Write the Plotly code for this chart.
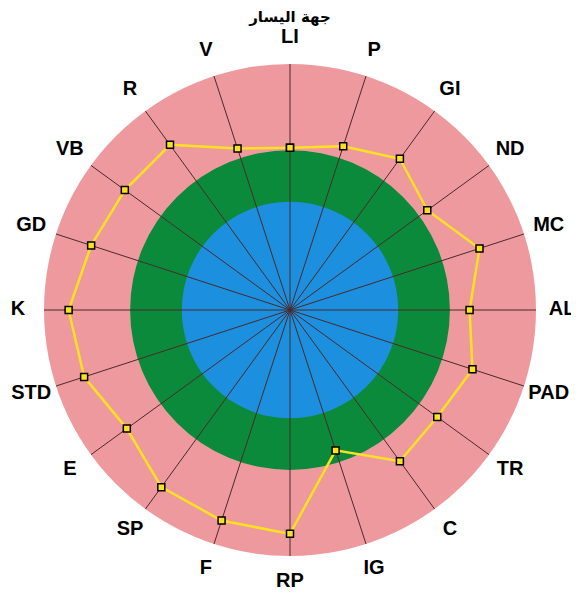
import plotly.graph_objects as go

# categories clockwise from the top
categorias = ["LI", "P", "GI", "ND", "MC", "AL", "PAD", "TR", "C", "IG",
              "RP", "F", "SP", "E", "STD", "K", "GD", "VB", "R", "V"]
valores = [66, 70, 76, 69, 81, 73, 78, 74, 76, 60,
           91, 90, 89, 82, 88, 90, 85, 83, 83, 69]
zonas_r = [100, 65, 44]     # pink disc, green ring, blue core
zonas_color = ["#EE999E", "#0B8A3B", "#1C8FDF"]
r_max = 100
r_etiqueta = 110.6          # label ring, just outside the disc
r_eje = 112                 # radial range so the labels fit inside the subplot

YELLOW = "#FFE21F"
SPOKE = "#4A2A2C"

paso = 360 / len(categorias)
angulos = [i * paso for i in range(len(categorias))]

fig = go.Figure()

for r, c in zip(zonas_r, zonas_color):
    fig.add_trace(go.Barpolar(r=[r], theta=[180], width=[360],
                              marker=dict(color=c, line=dict(width=0)),
                              hoverinfo="skip", showlegend=False))

# spokes
sr, st = [], []
for a in angulos:
    sr += [0, r_max, None]
    st += [a, a, None]
fig.add_trace(go.Scatterpolar(r=sr, theta=st, mode="lines",
                              line=dict(color=SPOKE, width=1),
                              hoverinfo="skip", showlegend=False))

fig.add_trace(go.Scatterpolar(
    r=valores + valores[:1], theta=angulos + angulos[:1],
    mode="lines+markers",
    line=dict(color=YELLOW, width=2.5),
    marker=dict(symbol="square", size=7, color=YELLOW,
                line=dict(color="black", width=1.5)),
    showlegend=False,
))

# category labels centred on a ring outside the disc
fig.add_trace(go.Scatterpolar(
    r=[r_etiqueta] * len(categorias), theta=angulos,
    mode="text", text=categorias, textposition="middle center",
    textfont=dict(size=20, family="Arial", weight="bold", color="black"),
    cliponaxis=False, hoverinfo="skip", showlegend=False,
))

fig.update_layout(
    width=579, height=596,
    margin=dict(l=0, r=0, t=0, b=0),
    paper_bgcolor="white",
    font=dict(family="Arial", color="black"),
    title=dict(text="<b>جهة اليسار</b>", x=0.487, xanchor="center",
               y=0.986, yanchor="middle",
               font=dict(size=15, family="DejaVu Sans", color="black")),
    polar=dict(
        domain=dict(x=[0.0112, 0.9629], y=[0.0310, 0.9555]),
        bgcolor="rgba(0,0,0,0)",
        barmode="overlay",
        radialaxis=dict(visible=False, range=[0, r_eje]),
        angularaxis=dict(
            direction="clockwise", rotation=90,
            tickvals=angulos, showticklabels=False, ticks="",
            showgrid=False, showline=False,
        ),
    ),
)

fig.write_html("out.html")
